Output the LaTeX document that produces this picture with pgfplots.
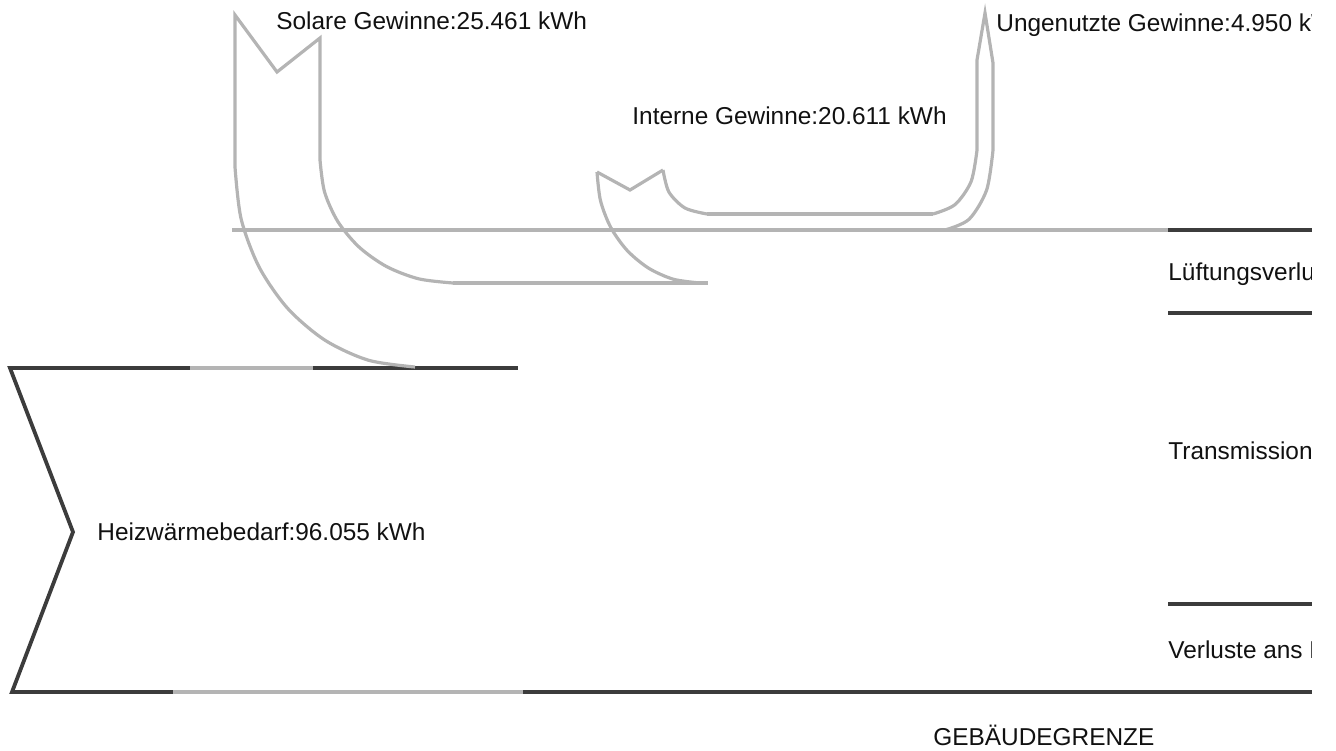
\documentclass[border=0pt]{standalone}
\usepackage{pgfplots}
\pgfplotsset{compat=1.18}
\usepackage{fontspec}
\setmainfont{Liberation Sans}
\definecolor{lg}{HTML}{B4B4B4}
\definecolor{dk}{HTML}{3C3C3C}
\definecolor{tx}{HTML}{111111}
\begin{document}
\begin{tikzpicture}
\begin{axis}[scale only axis, width=668pt, height=375pt,
  axis line style={draw=none}, xtick=\empty, ytick=\empty,
  xmin=0, xmax=1336, ymin=0, ymax=750, y dir=reverse, clip=false,
  L/.style={lg, no marks, line width=1.6pt, line join=miter},
  D/.style={dk, no marks, line width=1.9pt, line join=miter}]
% --- Heizwaermebedarf box ---
\addplot[D] coordinates {(190,368) (10,368) (73,532) (12,692) (173,692)};
\addplot[L] coordinates {(190,368) (313,368)};
\addplot[D] coordinates {(313,368) (518,368)};
\addplot[L] coordinates {(173,692) (523,692)};
\addplot[D] coordinates {(523,692) (1312,692)};
% --- right side lines ---
\addplot[L] coordinates {(232,230) (1168,230)};
\addplot[D] coordinates {(1168,230) (1312,230)};
\addplot[D] coordinates {(1168,313) (1312,313)};
\addplot[D] coordinates {(1168,604) (1312,604)};
% --- Solare Gewinne ---
\addplot[L, smooth] coordinates {(235,167) (241.1,218.8) (259.1,267) (287.7,308.4) (325,340.2) (368.4,360.2) (415,367)};
\addplot[L] coordinates {(235,167) (235,15) (277,72) (320,38) (320,160)};
\addplot[L, smooth] coordinates {(320,160) (324.5,191.8) (337.8,221.5) (359,247) (386.5,266.5) (418.6,278.8) (453,283)};
\addplot[L] coordinates {(453,283) (708,283)};
% --- Interne Gewinne ---
\addplot[L, smooth] coordinates {(597,172) (600.5,200.7) (610.8,227.5) (627.2,250.5) (648.5,268.1) (673.3,279.2) (700,283)};
\addplot[L] coordinates {(597,172) (630,190) (663,170)};
\addplot[L, smooth] coordinates {(663,170) (668.9,192) (685,208) (707,214)};
\addplot[L] coordinates {(707,214) (933,214)};
\addplot[L, smooth] coordinates {(933,214) (955,204.6) (971.1,181.5) (977,150)};
% --- Ungenutzte Gewinne ---
\addplot[L] coordinates {(977,150) (977,60) (985,13) (993,63) (993,150)};
\addplot[L, smooth] coordinates {(993,150) (986.6,190) (969,219.3) (945,230)};
% --- labels ---
\begin{scope}[every node/.style={font=\fontsize{12.2}{14}\selectfont, text=tx, inner sep=0pt, anchor=base west}]
\node at (axis cs:276,29) {Solare Gewinne:25.461 kWh};
\node at (axis cs:632,124) {Interne Gewinne:20.611 kWh};
\node at (axis cs:97,540) {Heizwärmebedarf:96.055 kWh};
\node at (axis cs:933,745) {GEBÄUDEGRENZE};
\clip (axis cs:0,0) rectangle (axis cs:1311,750);
\node at (axis cs:996,31) {Ungenutzte Gewinne:4.950 kWh};
\node at (axis cs:1168,280) {Lüftungsverluste};
\node at (axis cs:1168,459) {Transmissionsverluste};
\node at (axis cs:1168,658) {Verluste ans Erdreich};
\end{scope}
\end{axis}
\end{tikzpicture}
\end{document}
